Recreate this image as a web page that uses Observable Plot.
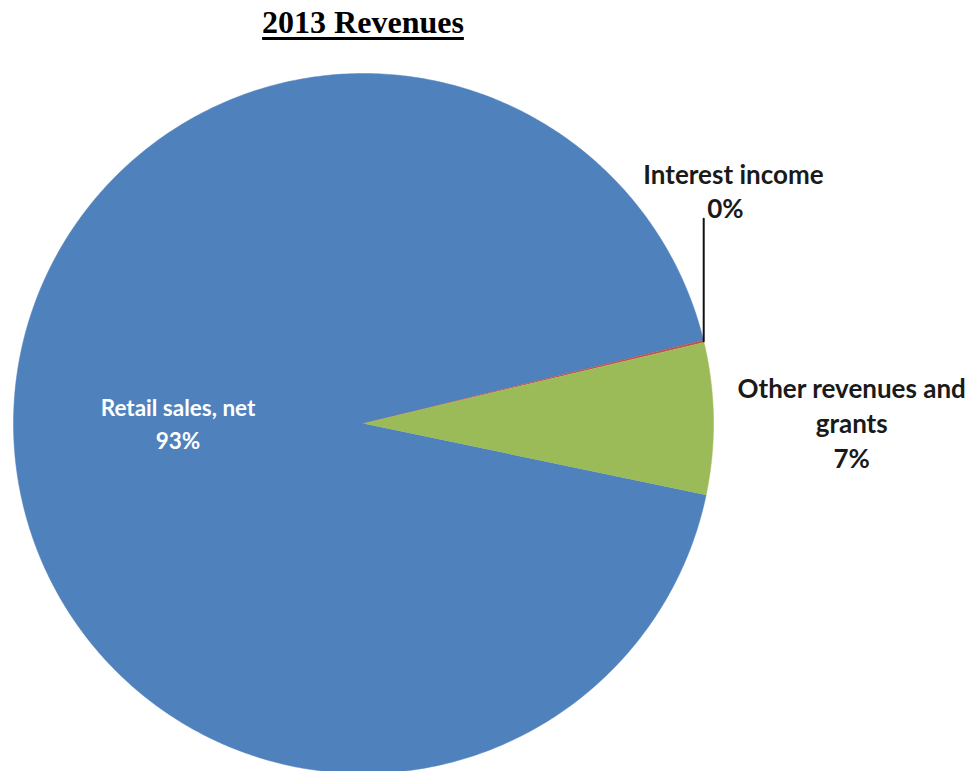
<!DOCTYPE html>
<html>
<head>
<meta charset="utf-8">
<script src="https://cdn.jsdelivr.net/npm/d3@7"></script>
<script src="https://cdn.jsdelivr.net/npm/@observablehq/plot@0.6"></script>
<style>
  body { margin: 0; background: #fff; }
  #title { width: 726px; height: 45px; text-align: center; font-family: "Liberation Serif", "Times New Roman", serif; font-weight: bold; font-size: 32px; line-height: 44px; }
  #title span { text-decoration: underline; text-decoration-thickness: 3px; text-underline-offset: 4px; }
</style>
</head>
<body>
<div id="title"><span>2013 Revenues</span></div>
<div id="chart"></div>
<script>
// Data
const categories = ["Retail sales, net", "Interest income", "Other revenues and grants"];
const values = [92.9, 0.1, 7.0];
const pctLabels = ["93%", "0%", "7%"];
const labelText = ["Retail sales, net", "Interest income", "Other revenues and\ngrants"];
const colors = ["#4F81BD", "#C0504D", "#9BBB59"];

// Layout
const W = 976, H = 726, R = 350, cx = 363, cy = 378;
const startAngle = 101.8 * Math.PI / 180; // clockwise from 12 o'clock

const total = d3.sum(values);
let acc = startAngle;
const slices = categories.map((c, i) => {
  const a0 = acc, a1 = acc + values[i] / total * 2 * Math.PI;
  acc = a1;
  const n = Math.max(2, Math.ceil((a1 - a0) / 0.01));
  const pts = [{x: 0, y: 0}];
  for (let k = 0; k <= n; k++) {
    const a = a0 + (a1 - a0) * k / n;
    pts.push({x: Math.sin(a), y: Math.cos(a)});
  }
  return {name: c, color: colors[i], a0, a1, mid: (a0 + a1) / 2, pts};
});

// label placement (radius factor along mid angle)
const s0 = slices[0], s1 = slices[1], s2 = slices[2];
const retailLabel = [{text: labelText[0] + "\n" + pctLabels[0], x: 0.53 * Math.sin(s0.mid), y: 0.53 * Math.cos(s0.mid) + 0.014}];
const otherLabel = [{text: labelText[2] + "\n" + pctLabels[2], x: 1.395 * Math.sin(s2.mid), y: 1.40 * Math.cos(s2.mid) - 0.015}];
const leaderX = Math.sin(s1.mid);
const leaderY0 = Math.cos(s1.mid);
const interestLabel = [{text: labelText[1], x: leaderX + 0.085, y: leaderY0 + 0.473}];
const interestPct = [{text: pctLabels[1], x: leaderX + 0.062, y: leaderY0 + 0.376}];
const leader = [{x: leaderX, y: leaderY0}, {x: leaderX, y: leaderY0 + 0.35}];

const font = "Lato, 'Open Sans', sans-serif";
const marks = slices.map(s => Plot.line(s.pts, {x: "x", y: "y", fill: s.color, stroke: s.color, strokeWidth: 0.5}));
marks.push(Plot.line(leader, {x: "x", y: "y", stroke: "#111", strokeWidth: 2}));
marks.push(Plot.text(retailLabel, {x: "x", y: "y", text: "text", fill: "white", fontSize: 22.5, fontWeight: "bold", fontFamily: font, lineHeight: 1.47}));
marks.push(Plot.text(otherLabel, {x: "x", y: "y", text: "text", fill: "#1a1a1a", fontSize: 26, fontWeight: "bold", fontFamily: font, lineHeight: 1.33}));
marks.push(Plot.text(interestLabel, {x: "x", y: "y", text: "text", fill: "#1a1a1a", fontSize: 26, fontWeight: "bold", fontFamily: font}));
marks.push(Plot.text(interestPct, {x: "x", y: "y", text: "text", fill: "#1a1a1a", fontSize: 26, fontWeight: "bold", fontFamily: font}));

const chart = Plot.plot({
  width: W, height: H,
  margin: 0,
  x: {domain: [-cx / R, (W - cx) / R], axis: null},
  y: {domain: [-(H - cy) / R, cy / R], axis: null},
  marks
});
document.getElementById("chart").appendChild(chart);
</script>
</body>
</html>
